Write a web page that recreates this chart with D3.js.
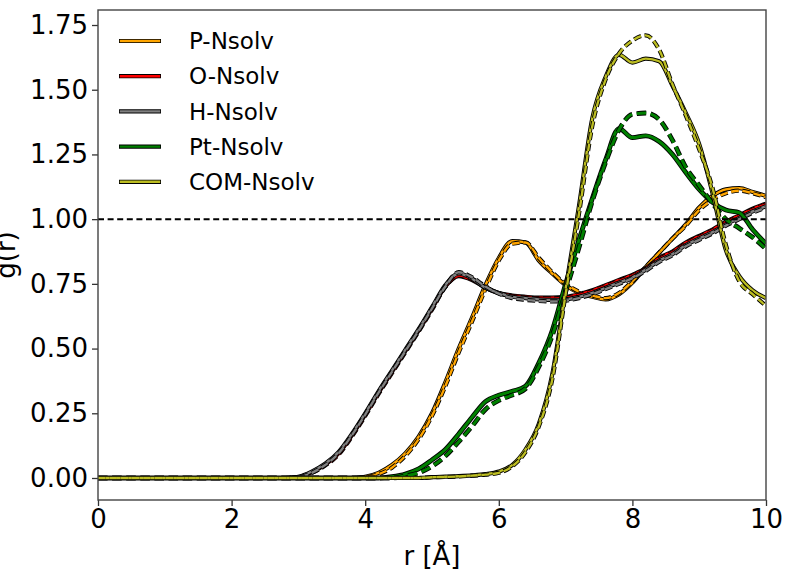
<!DOCTYPE html>
<html>
<head>
<meta charset="utf-8">
<script src="https://cdn.jsdelivr.net/npm/d3@7"></script>
<style>
  body { margin: 0; background: #fff; }
  text { font-family: "DejaVu Sans", sans-serif; fill: #000; }
</style>
</head>
<body>
<div id="chart"></div>
<script>
// r grid (Å)
var rValues = [0,0.2,0.4,0.6,0.8,1.0,1.2,1.4,1.6,1.8,2.0,2.2,2.4,2.6,2.8,3.0,3.2,3.4,3.6,3.8,
  4.0,4.2,4.4,4.6,4.8,5.0,5.2,5.4,5.6,5.8,6.0,6.2,6.4,6.6,6.8,7.0,7.2,7.4,7.6,7.8,
  8.0,8.2,8.4,8.6,8.8,9.0,9.2,9.4,9.6,9.8,10.0];

var seriesNames = ["P-Nsolv", "O-Nsolv", "H-Nsolv", "Pt-Nsolv", "COM-Nsolv"];
var seriesColors = ["#ffa500", "#ff0000", "#808080", "#008000", "#bcbd22"];

// solid = run 1, dashed = run 2
var pSolid = [0,0,0,0,0,0,0,0,0,0,0,0,0,0,0,0,0,0,0,0,
  0.005,0.02,0.05,0.095,0.16,0.25,0.37,0.5,0.62,0.745,0.85,0.915,0.91,0.84,0.79,0.745,0.715,0.70,0.69,0.71,
  0.755,0.815,0.87,0.925,0.98,1.045,1.09,1.115,1.12,1.105,1.09];
var pDashed = [0,0,0,0,0,0,0,0,0,0,0,0,0,0,0,0,0,0,0,0,
  0.003,0.015,0.04,0.085,0.15,0.24,0.355,0.485,0.605,0.73,0.84,0.905,0.91,0.85,0.795,0.75,0.72,0.705,0.695,0.715,
  0.76,0.815,0.87,0.925,0.975,1.035,1.075,1.1,1.11,1.1,1.085];
var oSolid = [0,0,0,0,0,0,0,0,0,0,0,0,0,0,0,0.004,0.022,0.052,0.095,0.165,
  0.245,0.33,0.41,0.49,0.57,0.655,0.74,0.78,0.765,0.735,0.715,0.705,0.70,0.697,0.697,0.70,0.71,0.725,0.745,0.765,
  0.785,0.81,0.85,0.875,0.91,0.935,0.96,0.99,1.015,1.04,1.06];
var oDashed = [0,0,0,0,0,0,0,0,0,0,0,0,0,0,0,0.003,0.02,0.048,0.09,0.16,
  0.24,0.325,0.405,0.485,0.566,0.65,0.738,0.782,0.768,0.736,0.714,0.703,0.697,0.694,0.694,0.697,0.707,0.722,0.742,0.762,
  0.782,0.808,0.846,0.872,0.906,0.932,0.957,0.987,1.012,1.037,1.057];
var hSolid = [0,0,0,0,0,0,0,0,0,0,0,0,0,0,0,0.005,0.025,0.055,0.10,0.17,
  0.25,0.335,0.415,0.495,0.575,0.66,0.745,0.79,0.77,0.735,0.715,0.70,0.695,0.69,0.688,0.69,0.70,0.715,0.735,0.755,
  0.775,0.805,0.84,0.865,0.9,0.925,0.95,0.98,1.005,1.03,1.05];
var hDashed = [0,0,0,0,0,0,0,0,0,0,0,0,0,0,0,0.003,0.02,0.05,0.095,0.165,
  0.245,0.33,0.41,0.49,0.57,0.655,0.74,0.795,0.775,0.74,0.712,0.695,0.688,0.684,0.682,0.685,0.695,0.71,0.73,0.75,
  0.772,0.80,0.835,0.86,0.895,0.92,0.945,0.975,1.0,1.025,1.045];
var ptSolid = [0,0,0,0,0,0,0,0,0,0,0,0,0,0,0,0,0,0,0,0,
  0,0,0.005,0.015,0.035,0.07,0.11,0.17,0.235,0.295,0.32,0.335,0.355,0.445,0.57,0.75,0.92,1.08,1.23,1.35,
  1.315,1.322,1.30,1.25,1.18,1.115,1.065,1.035,1.025,0.96,0.905];
var ptDashed = [0,0,0,0,0,0,0,0,0,0,0,0,0,0,0,0,0,0,0,0,
  0,0,0,0.008,0.02,0.045,0.085,0.14,0.2,0.265,0.30,0.32,0.345,0.43,0.55,0.72,0.89,1.07,1.22,1.345,
  1.405,1.41,1.385,1.305,1.2,1.13,1.06,1.0,0.965,0.93,0.885];
var comSolid = [0,0,0,0,0,0,0,0,0,0,0,0,0,0,0,0,0,0,0,0,
  0,0,0,0,0,0.003,0.005,0.007,0.01,0.015,0.025,0.05,0.11,0.21,0.40,0.73,1.05,1.39,1.55,1.635,
  1.605,1.62,1.61,1.515,1.41,1.29,1.10,0.88,0.78,0.725,0.695];
var comDashed = [0,0,0,0,0,0,0,0,0,0,0,0,0,0,0,0,0,0,0,0,
  0,0,0,0,0,0.003,0.004,0.006,0.009,0.013,0.02,0.045,0.10,0.20,0.38,0.71,1.02,1.36,1.54,1.64,
  1.69,1.71,1.655,1.52,1.40,1.27,1.12,0.90,0.76,0.71,0.665];

var solidRuns = [pSolid, oSolid, hSolid, ptSolid, comSolid];
var dashedRuns = [pDashed, oDashed, hDashed, ptDashed, comDashed];

var xTicks = [0, 2, 4, 6, 8, 10];
var yTicks = [0, 0.25, 0.5, 0.75, 1.0, 1.25, 1.5, 1.75];

var margin = {top: 10, right: 20, bottom: 73, left: 98},
    width = 786 - margin.left - margin.right,
    height = 573 - margin.top - margin.bottom;

var x = d3.scaleLinear().domain([0, 10]).range([0, width]);
var y = d3.scaleLinear().domain([-0.085, 1.808]).range([height, 0]);

var svg = d3.select("#chart").append("svg")
  .attr("width", 786)
  .attr("height", 573)
  .append("g")
  .attr("transform", "translate(" + margin.left + "," + margin.top + ")");

svg.append("clipPath").attr("id", "plotclip")
  .append("rect").attr("width", width).attr("height", height);

var plot = svg.append("g").attr("clip-path", "url(#plotclip)");

var line = d3.line()
  .x(function(d) { return x(d[0]); })
  .y(function(d) { return y(d[1]); })
  .curve(d3.curveMonotoneX);

function drawRun(values, color, dashed, i) {
  var pts = rValues.map(function(r, k) { return [r, values[k]]; });
  var w = (i == 3) ? 3 : 2.4;
  var dash = dashed ? (w * 3.2) + "," + (w * 1.5) : null;
  // black outline underneath
  plot.append("path")
    .attr("d", line(pts))
    .attr("fill", "none")
    .attr("stroke", "#000")
    .attr("stroke-width", w + 1.8)
    .attr("stroke-dasharray", dash)
    .attr("stroke-linejoin", "round");
  plot.append("path")
    .attr("d", line(pts))
    .attr("fill", "none")
    .attr("stroke", color)
    .attr("stroke-width", w)
    .attr("stroke-dasharray", dash)
    .attr("stroke-linejoin", "round");
}

seriesNames.forEach(function(name, i) {
  drawRun(solidRuns[i], seriesColors[i], false, i);
  drawRun(dashedRuns[i], seriesColors[i], true, i);
});

// g(r) = 1 reference
plot.append("line")
  .attr("x1", 0).attr("x2", width)
  .attr("y1", y(1)).attr("y2", y(1))
  .attr("stroke", "#000")
  .attr("stroke-width", 2)
  .style("stroke-dasharray", "6,3.6");

// axes
var xAxis = d3.axisBottom(x).tickValues(xTicks).tickSize(6).tickPadding(4)
  .tickFormat(d3.format("d"));
var yAxis = d3.axisLeft(y).tickValues(yTicks).tickSize(6).tickPadding(4)
  .tickFormat(d3.format(".2f"));

var gx = svg.append("g")
  .attr("transform", "translate(0," + height + ")")
  .call(xAxis);
var gy = svg.append("g").call(yAxis);

[gx, gy].forEach(function(g) {
  g.select(".domain").remove();
  g.selectAll("line").attr("stroke", "#333").attr("stroke-width", 1.3);
  g.selectAll("text").style("font-size", "26px").style("font-family", "DejaVu Sans");
});

svg.append("rect")
  .attr("width", width).attr("height", height)
  .attr("fill", "none")
  .attr("stroke", "#444")
  .attr("stroke-width", 1.4);

// axis labels
svg.append("text")
  .attr("x", width / 2)
  .attr("y", height + 65)
  .style("text-anchor", "middle")
  .style("font-size", "26px")
  .text("r [Å]");

svg.append("text")
  .attr("transform", "translate(" + (15 - margin.left) + "," + (height / 2) + ") rotate(-90)")
  .style("text-anchor", "middle")
  .style("font-size", "26px")
  .text("g(r)");

// legend
var legend = svg.append("g").attr("transform", "translate(21,31)");
seriesNames.forEach(function(name, i) {
  var row = legend.append("g").attr("transform", "translate(0," + (i * 35.2) + ")");
  row.append("line").attr("x1", 0).attr("x2", 42)
    .attr("stroke", "#000").attr("stroke-width", 4.2);
  row.append("line").attr("x1", 0.8).attr("x2", 41.2)
    .attr("stroke", seriesColors[i]).attr("stroke-width", 2.4);
  row.append("text")
    .attr("x", 70)
    .attr("y", 0)
    .attr("dy", "0.36em")
    .style("font-size", "23px")
    .text(name);
});
</script>
</body>
</html>
